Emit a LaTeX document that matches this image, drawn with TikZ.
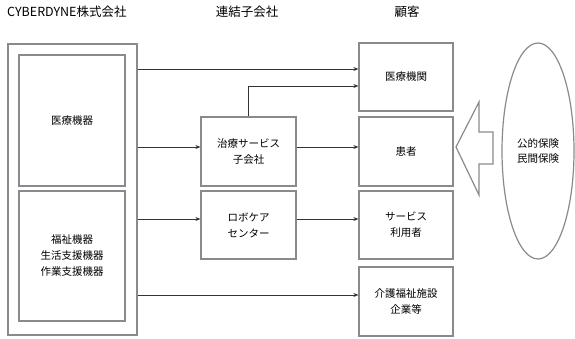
\documentclass[tikz,border=0pt]{standalone}
\usepackage{fontspec}
\setmainfont{Noto Sans CJK JP}
\usepackage{tikz}
\usetikzlibrary{arrows.meta, positioning, shapes.geometric, calc}
\definecolor{edge}{HTML}{8A8A8E}
\definecolor{wire}{HTML}{333333}

\begin{document}
\begin{tikzpicture}[x=1pt, y=-1pt,
        box/.style={rectangle, draw=edge, line width=1.2pt, minimum width=#1, align=center, font=\fontsize{10.5}{16}\selectfont, inner sep=0pt},
        title/.style={font=\fontsize{12.5}{14}\selectfont, inner sep=0pt},
        arrow/.style={-{Stealth[length=5pt, width=4pt]}, wire, line width=0.9pt}
    ]
        \useasboundingbox (0,0) rectangle (575,338);

        % Titles
        \node[title, anchor=west] (tcomp) at (7,12) {CYBERDYNE株式会社};
        \node[title] (tsub) at (247,12) {連結子会社};
        \node[title] (tcust) at (407,12) {顧客};

        % CYBERDYNE
        \node[box=129pt, minimum height=291pt] (comp) at (72.5,189.5) {};
        \node[box=106pt, minimum height=131pt] (med) at (72,120.5) {医療機器};
        \node[box=106pt, minimum height=130pt] (welf) at (72,256) {福祉機器\\生活支援機器\\作業支援機器};

        % Subsidiaries
        \node[box=95pt, minimum height=69pt] (cure) at (248.5,151.5) {治療サービス\\子会社};
        \node[box=95pt, minimum height=68pt] (robo) at (248.5,225) {ロボケア\\センター};

        % Customers
        \node[box=94pt, minimum height=68pt] (hosp) at (406,77) {医療機関};
        \node[box=94pt, minimum height=69pt] (pat) at (406,151.5) {患者};
        \node[box=94pt, minimum height=68pt] (user) at (406,225) {サービス\\利用者};
        \node[box=94pt, minimum height=69pt] (care) at (406,301.5) {介護福祉施設\\企業等};

        % Insurance
        \node[ellipse, draw=edge, line width=1.2pt, minimum width=72pt, minimum height=216pt, inner sep=0pt, align=center, font=\fontsize{10.5}{15}\selectfont] (ins) at (538,151) {公的保険\\民間保険};
        \draw[edge, line width=1.2pt, line join=miter] (456,147) -- (479,102) -- (479,132) -- (493,132) -- (493,164) -- (479,164) -- (479,195) -- cycle;

        % Connectors
        \coordinate (h1) at ([yshift=8pt]hosp.west);
        \coordinate (h2) at ([yshift=-9pt]hosp.west);
        \coordinate (c1) at ([yshift=4.5pt]cure.west);
        \coordinate (r1) at ([yshift=6pt]robo.west);
        \coordinate (k1) at ([yshift=6.5pt]care.west);
        \draw[arrow] (comp.east |- h1) -- (h1);
        \draw[arrow] (cure.north) |- (h2);
        \draw[arrow] (comp.east |- c1) -- (c1);
        \draw[arrow] (cure.east |- c1) -- (pat.west |- c1);
        \draw[arrow] (comp.east |- r1) -- (r1);
        \draw[arrow] (robo.east |- r1) -- (user.west |- r1);
        \draw[arrow] (comp.east |- k1) -- (k1);
    \end{tikzpicture}
\end{document}
